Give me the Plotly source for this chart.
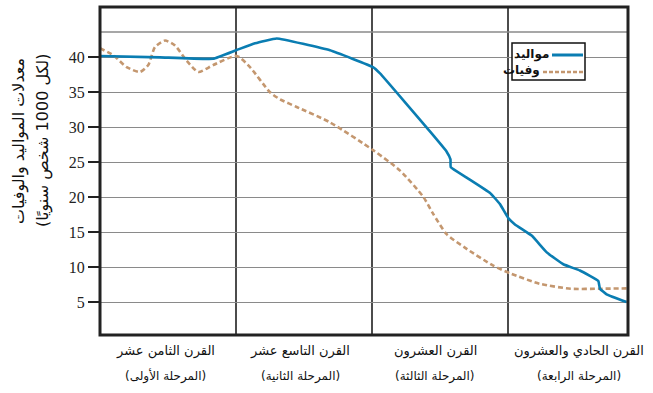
import plotly.graph_objects as go

# ---- data (x in "era" units: 0..1 = first stage, 1..2 second, ...) ----
births_x = [0.0, 0.44, 0.831, 1.005, 1.14, 1.299, 1.691, 2.007, 2.059, 2.426, 2.549, 2.577, 2.579,
            2.696, 2.868, 2.941, 3.002, 3.051, 3.174, 3.285, 3.407, 3.529, 3.664, 3.676, 3.725, 3.872]
births_y = [40.2, 40.0, 39.8, 41.05, 42.0, 42.7, 41.0, 38.6, 37.7, 29.4, 26.5, 25.4, 24.3,
            22.8, 20.6, 19.0, 17.0, 16.1, 14.5, 12.1, 10.4, 9.5, 8.0, 6.9, 6.1, 5.0]

deaths_x = [0.0, 0.098, 0.196, 0.294, 0.355, 0.404, 0.478, 0.551, 0.638, 0.723, 0.833, 1.005,
            1.103, 1.25, 1.324, 1.446, 1.691, 2.01, 2.206, 2.377, 2.45, 2.549, 2.696, 2.892,
            3.015, 3.235, 3.461, 3.676, 3.872]
deaths_y = [41.3, 40.3, 38.6, 37.9, 38.9, 41.45, 42.4, 41.7, 39.5, 37.9, 38.9, 40.2,
            38.6, 35.0, 34.0, 32.9, 30.7, 26.7, 23.8, 20.05, 17.6, 14.7, 12.6, 10.2,
            9.1, 7.6, 6.9, 6.9, 6.95]

y_ticks = [5, 10, 15, 20, 25, 30, 35, 40]
era_names = ["القرن الثامن عشر", "القرن التاسع عشر", "القرن العشرون", "القرن الحادي والعشرون"]
stage_names = ["(المرحلة الأولى)", "(المرحلة الثانية)", "(المرحلة الثالثة)", "(المرحلة الرابعة)"]
era_bounds = [1, 2, 3]
series_names = ["مواليد", "وفيات"]
y_title = ["معدلات المواليد والوفيات", "(لكل 1000 شخص سنويًا)"]

BLUE = "#0a7db2"
TAN = "#c4976f"
AR = "DejaVu Sans"

W, H = 653, 393
L, R, T, B = 100, 25, 7, 58
PW, PH = W - L - R, H - T - B


def px(x):
    return (x - L) / PW


def py(y):
    return (H - B - y) / PH


fig = go.Figure()
fig.add_trace(go.Scatter(x=deaths_x, y=deaths_y, mode="lines", name=series_names[1],
                         line=dict(color=TAN, width=2.6, dash="5px,3px", shape="spline", smoothing=0.6),
                         showlegend=False, hoverinfo="skip"))
fig.add_trace(go.Scatter(x=births_x, y=births_y, mode="lines", name=series_names[0],
                         line=dict(color=BLUE, width=2.6, shape="spline", smoothing=0.3),
                         showlegend=False, hoverinfo="skip"))

shapes = []
for b in era_bounds:
    shapes.append(dict(type="line", xref="x", yref="paper", x0=b, x1=b, y0=0, y1=1,
                       line=dict(color="#111", width=1.5), layer="below"))
# unlabeled top gridline
shapes.append(dict(type="line", xref="paper", yref="paper", x0=0, x1=1, y0=py(32), y1=py(32),
                   line=dict(color="#8a8a8a", width=1.3), layer="below"))
# frame
shapes.append(dict(type="rect", xref="paper", yref="paper", x0=0, x1=1, y0=0, y1=1,
                   line=dict(color="#222", width=3)))
# legend box
shapes.append(dict(type="rect", xref="paper", yref="paper", x0=px(512), x1=px(585),
                   y0=py(80), y1=py(43), fillcolor="white", line=dict(color="#111", width=1.5)))
shapes.append(dict(type="line", xref="paper", yref="paper", x0=px(552), x1=px(583),
                   y0=py(55), y1=py(55), line=dict(color=BLUE, width=3)))
shapes.append(dict(type="line", xref="paper", yref="paper", x0=px(543), x1=px(583),
                   y0=py(72), y1=py(72), line=dict(color=TAN, width=2.5, dash="4px,2px")))

ann = []
ann.append(dict(text="<b>" + series_names[0] + "</b>", xref="paper", yref="paper", x=px(551), y=py(54),
                xanchor="right", yanchor="middle", showarrow=False,
                font=dict(family=AR, size=12, color="#111")))
ann.append(dict(text="<b>" + series_names[1] + "</b>", xref="paper", yref="paper", x=px(542), y=py(71),
                xanchor="right", yanchor="middle", showarrow=False,
                font=dict(family=AR, size=12, color="#111")))

centers = [165, 300, 435, 579]
for c, e, s in zip(centers, era_names, stage_names):
    ann.append(dict(text=e, xref="paper", yref="paper", x=px(c), y=py(351),
                    xanchor="center", yanchor="middle", showarrow=False,
                    font=dict(family=AR, size=13, color="#111")))
    ann.append(dict(text=s, xref="paper", yref="paper", x=px(c), y=py(376),
                    xanchor="center", yanchor="middle", showarrow=False,
                    font=dict(family=AR, size=12, color="#111")))

ann.append(dict(text=y_title[0], xref="paper", yref="paper", x=px(19), y=py(141),
                textangle=-90, xanchor="center", yanchor="middle", showarrow=False,
                font=dict(family=AR, size=16, color="#111")))
ann.append(dict(text=y_title[1], xref="paper", yref="paper", x=px(43), y=py(141),
                textangle=-90, xanchor="center", yanchor="middle", showarrow=False,
                font=dict(family=AR, size=16, color="#111")))

fig.update_layout(
    width=W, height=H,
    margin=dict(l=L, r=R, t=T, b=B, autoexpand=False),
    paper_bgcolor="white", plot_bgcolor="white",
    shapes=shapes, annotations=ann,
    hovermode=False,
    xaxis=dict(range=[0, PW / 136.0], showticklabels=False, showgrid=False, zeroline=False,
               ticks="", showline=False, fixedrange=True),
    yaxis=dict(range=[0.28, 47.2], tickvals=y_ticks, ticktext=[str(v) for v in y_ticks],
               ticks="outside", ticklen=11, tickwidth=1.5, tickcolor="#222",
               showgrid=True, gridcolor="#8a8a8a", gridwidth=1.3, zeroline=False,
               showline=False, fixedrange=True,
               tickfont=dict(family="Liberation Serif, Times New Roman, serif", size=16, color="#222")),
)

fig.write_html("out.html", config={"displayModeBar": False},
               post_script="document.body.style.margin='0';document.body.style.overflow='hidden';")
